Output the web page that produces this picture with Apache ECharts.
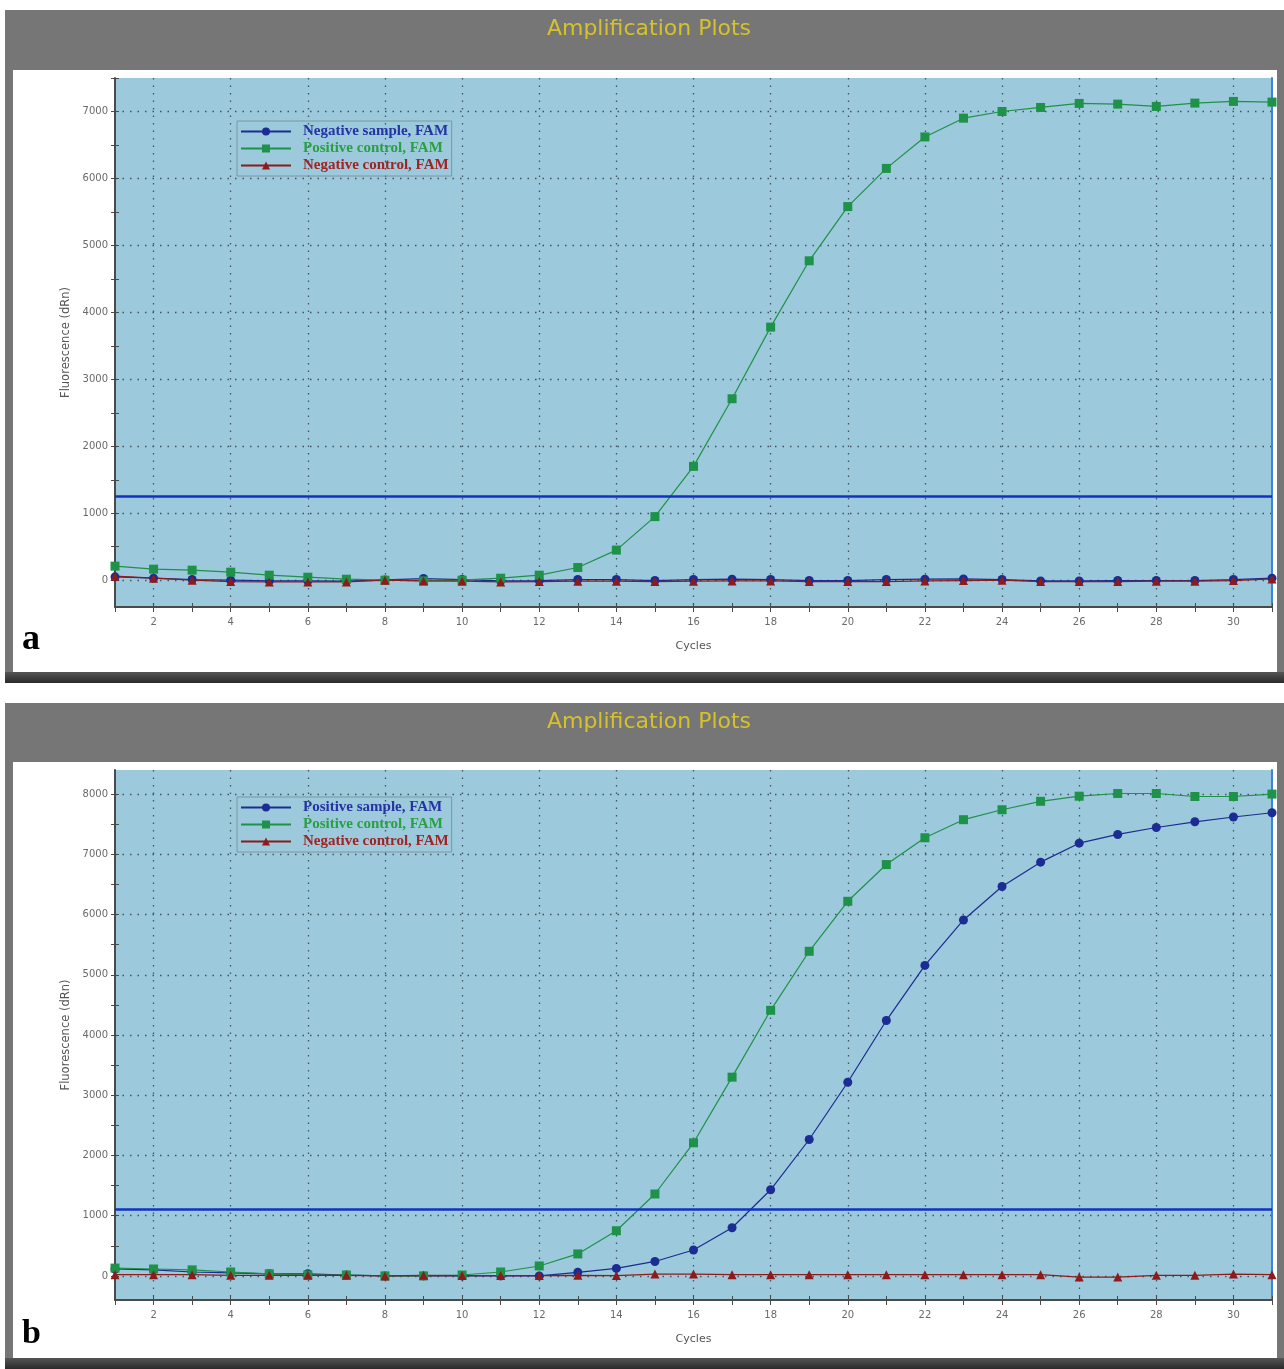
<!DOCTYPE html>
<html><head><meta charset="utf-8">
<script src="https://cdn.jsdelivr.net/npm/echarts@6.0.0/dist/echarts.min.js"></script>
<style>html,body{margin:0;padding:0;background:#fff}#c{width:1284px;height:1369px}</style>
</head><body><div id="c"></div><script>
// ---------------- data ----------------
const cycles = [1,2,3,4,5,6,7,8,9,10,11,12,13,14,15,16,17,18,19,20,21,22,23,24,25,26,27,28,29,30,31];
const xLabelValues = [2,4,6,8,10,12,14,16,18,20,22,24,26,28,30];

// panel a
const aNegSample  = [50,30,10,0,-10,-10,-15,5,25,10,-10,-5,10,10,-5,10,15,10,-5,-5,10,15,20,10,-10,-10,-5,-5,-5,10,30];
const aPosControl = [210,165,150,120,75,45,15,0,-10,0,30,75,190,450,950,1700,2710,3780,4770,5580,6150,6620,6900,7000,7060,7120,7110,7075,7125,7150,7140];
const aNegControl = [60,30,0,-20,-25,-25,-25,0,-10,-15,-25,-20,-15,-15,-20,-15,-10,-10,-20,-20,-20,-10,-5,0,-20,-20,-20,-15,-15,-5,20];
const aThreshold = 1250;
const aYLabels = [0,1000,2000,3000,4000,5000,6000,7000];
const aYTicks = [0,500,1000,1500,2000,2500,3000,3500,4000,4500,5000,5500,6000,6500,7000,7500];

// panel b
const bPosSample  = [115,100,65,50,35,35,15,0,0,0,0,0,60,125,240,430,800,1430,2265,3215,4240,5155,5910,6465,6870,7185,7330,7445,7540,7620,7690];
const bPosControl = [130,115,100,65,35,15,15,0,0,15,65,165,365,750,1360,2210,3300,4410,5390,6220,6830,7275,7575,7740,7880,7965,8010,8010,7960,7960,8000];
const bNegControl = [20,20,20,10,10,10,10,0,10,5,5,5,10,5,30,30,20,20,20,20,20,20,20,20,20,-20,-20,10,10,30,20];
const bThreshold = 1100;
const bYLabels = [0,1000,2000,3000,4000,5000,6000,7000,8000];
const bYTicks = [0,500,1000,1500,2000,2500,3000,3500,4000,4500,5000,5500,6000,6500,7000,7500,8000];

// ---------------- styling ----------------
const BLUE = '#1b2c92', GREEN = '#1e9248', RED = '#8e1b1b';
const LBL = '#6a6a6a';
const AXIS = '#4a4a4a';
const dotted = {show:true, lineStyle:{type:[1.5,6], color:'#44545f', width:1.3}};

function xAxesFor(g){
  return [
    {type:'value', gridIndex:g, min:1, max:31, position:'bottom',
     axisLine:{show:false, onZero:false}, axisTick:{show:false, customValues:xLabelValues},
     axisLabel:{customValues:xLabelValues, color:LBL, fontSize:10, fontFamily:'DejaVu Sans', margin:10,
       formatter:(v)=>String(v)},
     splitLine:dotted,
     name:'Cycles', nameLocation:'middle', nameGap:34,
     nameTextStyle:{color:'#555', fontSize:11, fontFamily:'DejaVu Sans'}},
    {type:'value', gridIndex:g, min:1, max:31, interval:1, position:'bottom',
     axisLine:{show:true, onZero:false, lineStyle:{color:AXIS, width:2}},
     axisTick:{show:true, length:5, lineStyle:{color:AXIS}}, axisLabel:{show:false}, splitLine:{show:false}},
    {type:'value', gridIndex:g, min:1, max:31, interval:1, position:'bottom',
     axisLine:{show:false, onZero:false},
     axisTick:{show:true, inside:true, length:4, lineStyle:{color:AXIS}}, axisLabel:{show:false}, splitLine:{show:false}}
  ];
}
function yAxesFor(g, mn, mx, labels, ticks){
  return [
    {type:'value', gridIndex:g, min:mn, max:mx, position:'left',
     axisLine:{show:false, onZero:false}, axisTick:{show:false, customValues:labels},
     axisLabel:{customValues:labels, color:LBL, fontSize:10, fontFamily:'DejaVu Sans', margin:7,
       formatter:(v)=>String(v)},
     splitLine:dotted,
     name:'Fluorescence (dRn)', nameLocation:'middle', nameGap:40, nameRotate:90,
     nameTextStyle:{color:'#555', fontSize:11.5, fontFamily:'DejaVu Sans'}},
    {type:'value', gridIndex:g, min:mn, max:mx, position:'left',
     axisLine:{show:true, onZero:false, lineStyle:{color:AXIS, width:2}},
     axisTick:{show:true, length:4, customValues:ticks, lineStyle:{color:AXIS}},
     axisLabel:{show:false}, splitLine:{show:false}},
    {type:'value', gridIndex:g, min:mn, max:mx, position:'left',
     axisLine:{show:false, onZero:false},
     axisTick:{show:true, inside:true, length:4, customValues:ticks, lineStyle:{color:AXIS}},
     axisLabel:{show:false}, splitLine:{show:false}},
    {type:'value', gridIndex:g, min:mn, max:mx, position:'right',
     axisLine:{show:true, onZero:false, lineStyle:{color:'#3b84dc', width:2}},
     axisTick:{show:false}, axisLabel:{show:false}, splitLine:{show:false}}
  ];
}
function pts(arr){ return cycles.map((c,i)=>[c, arr[i]]); }
function lineSeries(name, g, arr, color, symbol, thr){
  const s = {type:'line', name, xAxisIndex:g*3, yAxisIndex:g*4, data:pts(arr),
    symbol, symbolSize:9, showSymbol:true,
    lineStyle:{color, width:1.2}, itemStyle:{color}, emphasis:{disabled:true}, animation:false};
  if (thr !== undefined) {
    s.markLine = {silent:true, symbol:'none', label:{show:false}, animation:false,
      lineStyle:{color:'#1231c4', width:2.5, type:'solid'}, data:[{yAxis:thr}]};
  }
  return s;
}
function legendFor(top, names, colors){
  return {orient:'vertical', left:237, top, padding:[3,3,3,3], itemGap:2, itemWidth:50, itemHeight:10,
    borderColor:'#7f969f', borderWidth:1, selectedMode:false,
    textStyle:{fontFamily:'Liberation Serif', fontWeight:'bold', fontSize:15, padding:[0,0,0,7], lineHeight:14},
    data: names.map((n,i)=>({name:n, textStyle:{color:colors[i]}}))};
}
function frame(y0, titleH, h){
  return [
    {type:'rect', z:-20, shape:{x:5, y:y0, width:1279, height:h}, style:{fill:'#767676'}},
    {type:'rect', z:-19, shape:{x:5, y:y0+h-11, width:1279, height:11},
     style:{fill:new echarts.graphic.LinearGradient(0,0,0,1,[{offset:0,color:'#555'},{offset:1,color:'#2a2a2a'}])}},
    {type:'rect', z:-18, shape:{x:13, y:y0+titleH, width:1264, height:h-titleH-11}, style:{fill:'#ffffff'}},
    {type:'text', z:-17, x:649, y:y0+19, style:{text:'Amplification Plots', fill:'#d5c22b',
      fontSize:22, fontFamily:'DejaVu Sans', align:'center', verticalAlign:'middle'}}
  ];
}

const option = {
  animation:false,
  backgroundColor:'#ffffff',
  grid:[
    {left:115, top:78, width:1157, height:529, show:true, backgroundColor:'#9cc9db', borderWidth:0},
    {left:115, top:770, width:1157, height:530, show:true, backgroundColor:'#9cc9db', borderWidth:0}
  ],
  xAxis:[...xAxesFor(0), ...xAxesFor(1)],
  yAxis:[...yAxesFor(0,-400,7500,aYLabels,aYTicks), ...yAxesFor(1,-400,8400,bYLabels,bYTicks)],
  legend:[
    legendFor(121, ['Negative sample, FAM','Positive control, FAM','Negative control, FAM'], ['#2434a4','#2aa044','#a02424']),
    legendFor(797, ['Positive sample, FAM','Positive control, FAM','Negative control, FAM'], ['#2434a4','#2aa044','#a02424'])
  ],
  graphic:[
    ...frame(10, 60, 673),
    ...frame(703, 59, 666),
    {type:'text', x:22, y:658, style:{text:'a', fill:'#000', fontSize:36, fontWeight:'bold', fontFamily:'Liberation Serif', verticalAlign:'bottom'}},
    {type:'text', x:22, y:1351, style:{text:'b', fill:'#000', fontSize:34, fontWeight:'bold', fontFamily:'Liberation Serif', verticalAlign:'bottom'}}
  ],
  series:[
    lineSeries('Negative sample, FAM', 0, aNegSample, BLUE, 'circle', aThreshold),
    lineSeries('Positive control, FAM', 0, aPosControl, GREEN, 'rect'),
    lineSeries('Negative control, FAM', 0, aNegControl, RED, 'triangle'),
    lineSeries('Positive sample, FAM', 1, bPosSample, BLUE, 'circle', bThreshold),
    lineSeries('Positive control, FAM', 1, bPosControl, GREEN, 'rect'),
    lineSeries('Negative control, FAM', 1, bNegControl, RED, 'triangle')
  ]
};
const chart = echarts.init(document.getElementById('c'));
chart.setOption(option);
</script></body></html>
